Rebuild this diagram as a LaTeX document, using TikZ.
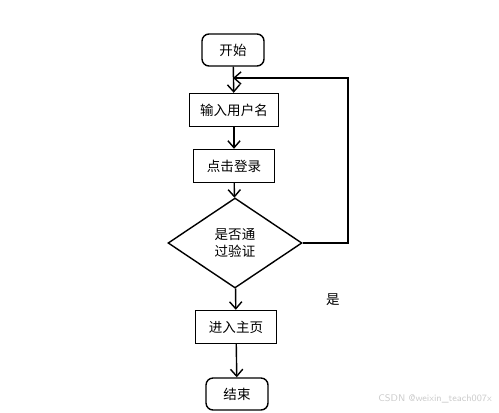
\documentclass[tikz,border=0pt]{standalone}
\usepackage{fontspec}
\newfontfamily\cjk{Noto Sans CJK SC}
\usetikzlibrary{arrows.meta,shapes.geometric}

\tikzset{
  box/.style={draw, line width=0.8pt, minimum width=1.78cm, minimum height=0.66cm, inner sep=0pt},
  endbox/.style={box, rounded corners=4pt, minimum width=1.24cm, minimum height=0.64cm},
  decision/.style={draw, diamond, line width=0.8pt, minimum width=2.68cm, minimum height=1.8cm, aspect=1.49, inner sep=0pt},
  flow/.style={line width=0.8pt, -{Straight Barb[length=4pt,width=7pt]}}
}

\begin{document}
\begin{tikzpicture}[x=0.02cm, y=-0.02cm, font=\cjk\fontsize{7.7}{10}\selectfont]

% Rand
\useasboundingbox (0,0) rectangle (499,412);

% Knoten
\node[endbox]
(start) at (233,50)
{开始};

\node[box]
(input) at (234,110)
{输入用户名};

\node[box, minimum width=1.62cm]
(login) at (234,166)
{点击登录};

\node[decision, align=center]
(check) at (235,243)
{是否通\\过验证};

\node[box, minimum width=1.62cm]
(home) at (236,327)
{进入主页};

\node[endbox]
(stop) at (237,394)
{结束};

% Pfeile
\draw[flow]
(start)
--
(input);

\draw[flow]
(input)
--
(login);

\draw[flow]
(login)
--
(check);

\draw[flow]
(check)
--
(home);

\draw[flow]
(home)
--
(stop);

% Ruecksprung
\coordinate (back) at (start.south |- 0,78);

\draw[flow]
(check.east)
-- (348,243)
-- (348,78)
--
(back);

\node
(yes) at (333,300)
{是};

% Wasserzeichen
\node[text=gray!40, font=\sffamily\fontsize{5.5}{6}\selectfont, anchor=east]
(mark) at (498,399)
{CSDN @weixin\_teach007x};

\end{tikzpicture}
\end{document}
